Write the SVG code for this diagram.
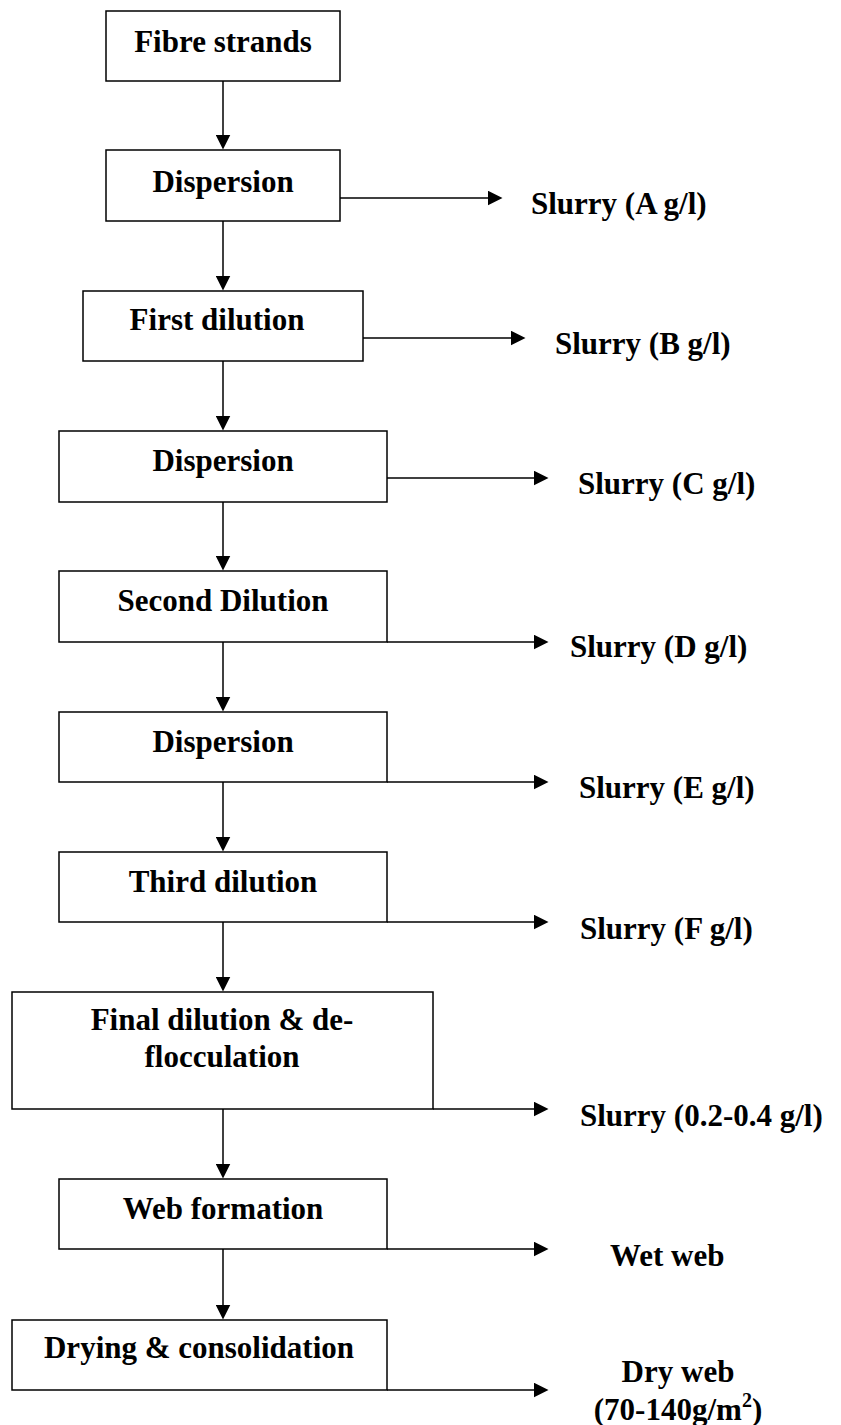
<svg xmlns="http://www.w3.org/2000/svg" width="841" height="1425" viewBox="0 0 841 1425">
  <style>
    .box { fill: #ffffff; stroke: #000000; stroke-width: 1.5; }
    .lbl { font-family: "Liberation Serif", "Times New Roman", serif; font-weight: bold; font-size: 31px; fill: #000000; }
    .mid { text-anchor: middle; }
    .wire { fill: none; stroke: #000000; stroke-width: 1.5; marker-end: url(#head); }
  </style>
  <defs>
    <marker id="head" markerUnits="userSpaceOnUse" markerWidth="15" markerHeight="15" refX="1" refY="7.25" orient="auto" viewBox="0 0 15 14.5">
      <path d="M0,0 L14.5,7.25 L0,14.5 z" fill="#000000"/>
    </marker>
  </defs>

  <rect width="841" height="1425" fill="#ffffff"/>

  <!-- process steps -->
  <g id="fibre-strands">
    <rect class="box" x="106" y="11" width="234" height="70"/>
    <text class="lbl mid" x="223" y="52">Fibre strands</text>
  </g>
  <g id="dispersion-1">
    <rect class="box" x="106" y="150" width="234" height="71"/>
    <text class="lbl mid" x="223" y="192">Dispersion</text>
  </g>
  <g id="first-dilution">
    <rect class="box" x="83" y="291" width="280" height="70"/>
    <text class="lbl mid" x="217" y="330">First dilution</text>
  </g>
  <g id="dispersion-2">
    <rect class="box" x="59" y="431" width="328" height="71"/>
    <text class="lbl mid" x="223" y="471">Dispersion</text>
  </g>
  <g id="second-dilution">
    <rect class="box" x="59" y="571" width="328" height="71"/>
    <text class="lbl mid" x="223" y="611">Second Dilution</text>
  </g>
  <g id="dispersion-3">
    <rect class="box" x="59" y="712" width="328" height="70"/>
    <text class="lbl mid" x="223" y="752">Dispersion</text>
  </g>
  <g id="third-dilution">
    <rect class="box" x="59" y="852" width="328" height="70"/>
    <text class="lbl mid" x="223" y="892">Third dilution</text>
  </g>
  <g id="final-dilution">
    <rect class="box" x="12" y="992" width="421" height="117"/>
    <text class="lbl mid" x="222" y="1030">Final dilution &amp; de-</text>
    <text class="lbl mid" x="222" y="1067">flocculation</text>
  </g>
  <g id="web-formation">
    <rect class="box" x="59" y="1179" width="328" height="70"/>
    <text class="lbl mid" x="223" y="1219">Web formation</text>
  </g>
  <g id="drying">
    <rect class="box" x="12" y="1320" width="375" height="70"/>
    <text class="lbl mid" x="199" y="1358">Drying &amp; consolidation</text>
  </g>

  <!-- outputs -->
  <g id="out-a"><text class="lbl" x="531" y="214">Slurry (A g/l)</text></g>
  <g id="out-b"><text class="lbl" x="555" y="354">Slurry (B g/l)</text></g>
  <g id="out-c"><text class="lbl" x="578" y="494">Slurry (C g/l)</text></g>
  <g id="out-d"><text class="lbl" x="570" y="657">Slurry (D g/l)</text></g>
  <g id="out-e"><text class="lbl" x="579" y="798">Slurry (E g/l)</text></g>
  <g id="out-f"><text class="lbl" x="580" y="939">Slurry (F g/l)</text></g>
  <g id="out-final"><text class="lbl" x="580" y="1126">Slurry (0.2-0.4 g/l)</text></g>
  <g id="out-wet"><text class="lbl" x="610" y="1266">Wet web</text></g>
  <g id="out-dry">
    <text class="lbl mid" x="678" y="1382">Dry web</text>
    <text class="lbl mid" x="678" y="1420">(70-140g/m<tspan font-size="20" dy="-13">2</tspan><tspan dy="13">)</tspan></text>
  </g>

  <!-- connectors -->
  <g id="connectors">
    <line class="wire" x1="223" y1="81" x2="223" y2="136"/>
    <line class="wire" x1="223" y1="221" x2="223" y2="277"/>
    <line class="wire" x1="223" y1="361" x2="223" y2="417"/>
    <line class="wire" x1="223" y1="502" x2="223" y2="557"/>
    <line class="wire" x1="223" y1="642" x2="223" y2="698"/>
    <line class="wire" x1="223" y1="782" x2="223" y2="838"/>
    <line class="wire" x1="223" y1="922" x2="223" y2="978"/>
    <line class="wire" x1="223" y1="1109" x2="223" y2="1165"/>
    <line class="wire" x1="223" y1="1249" x2="223" y2="1306"/>

    <line class="wire" x1="340" y1="198" x2="489" y2="198"/>
    <line class="wire" x1="363" y1="338" x2="512" y2="338"/>
    <line class="wire" x1="387" y1="478" x2="535" y2="478"/>
    <line class="wire" x1="387" y1="642" x2="535" y2="642"/>
    <line class="wire" x1="387" y1="782" x2="535" y2="782"/>
    <line class="wire" x1="387" y1="922" x2="535" y2="922"/>
    <line class="wire" x1="433" y1="1109" x2="535" y2="1109"/>
    <line class="wire" x1="387" y1="1249" x2="535" y2="1249"/>
    <line class="wire" x1="387" y1="1390" x2="535" y2="1390"/>
  </g>
</svg>
